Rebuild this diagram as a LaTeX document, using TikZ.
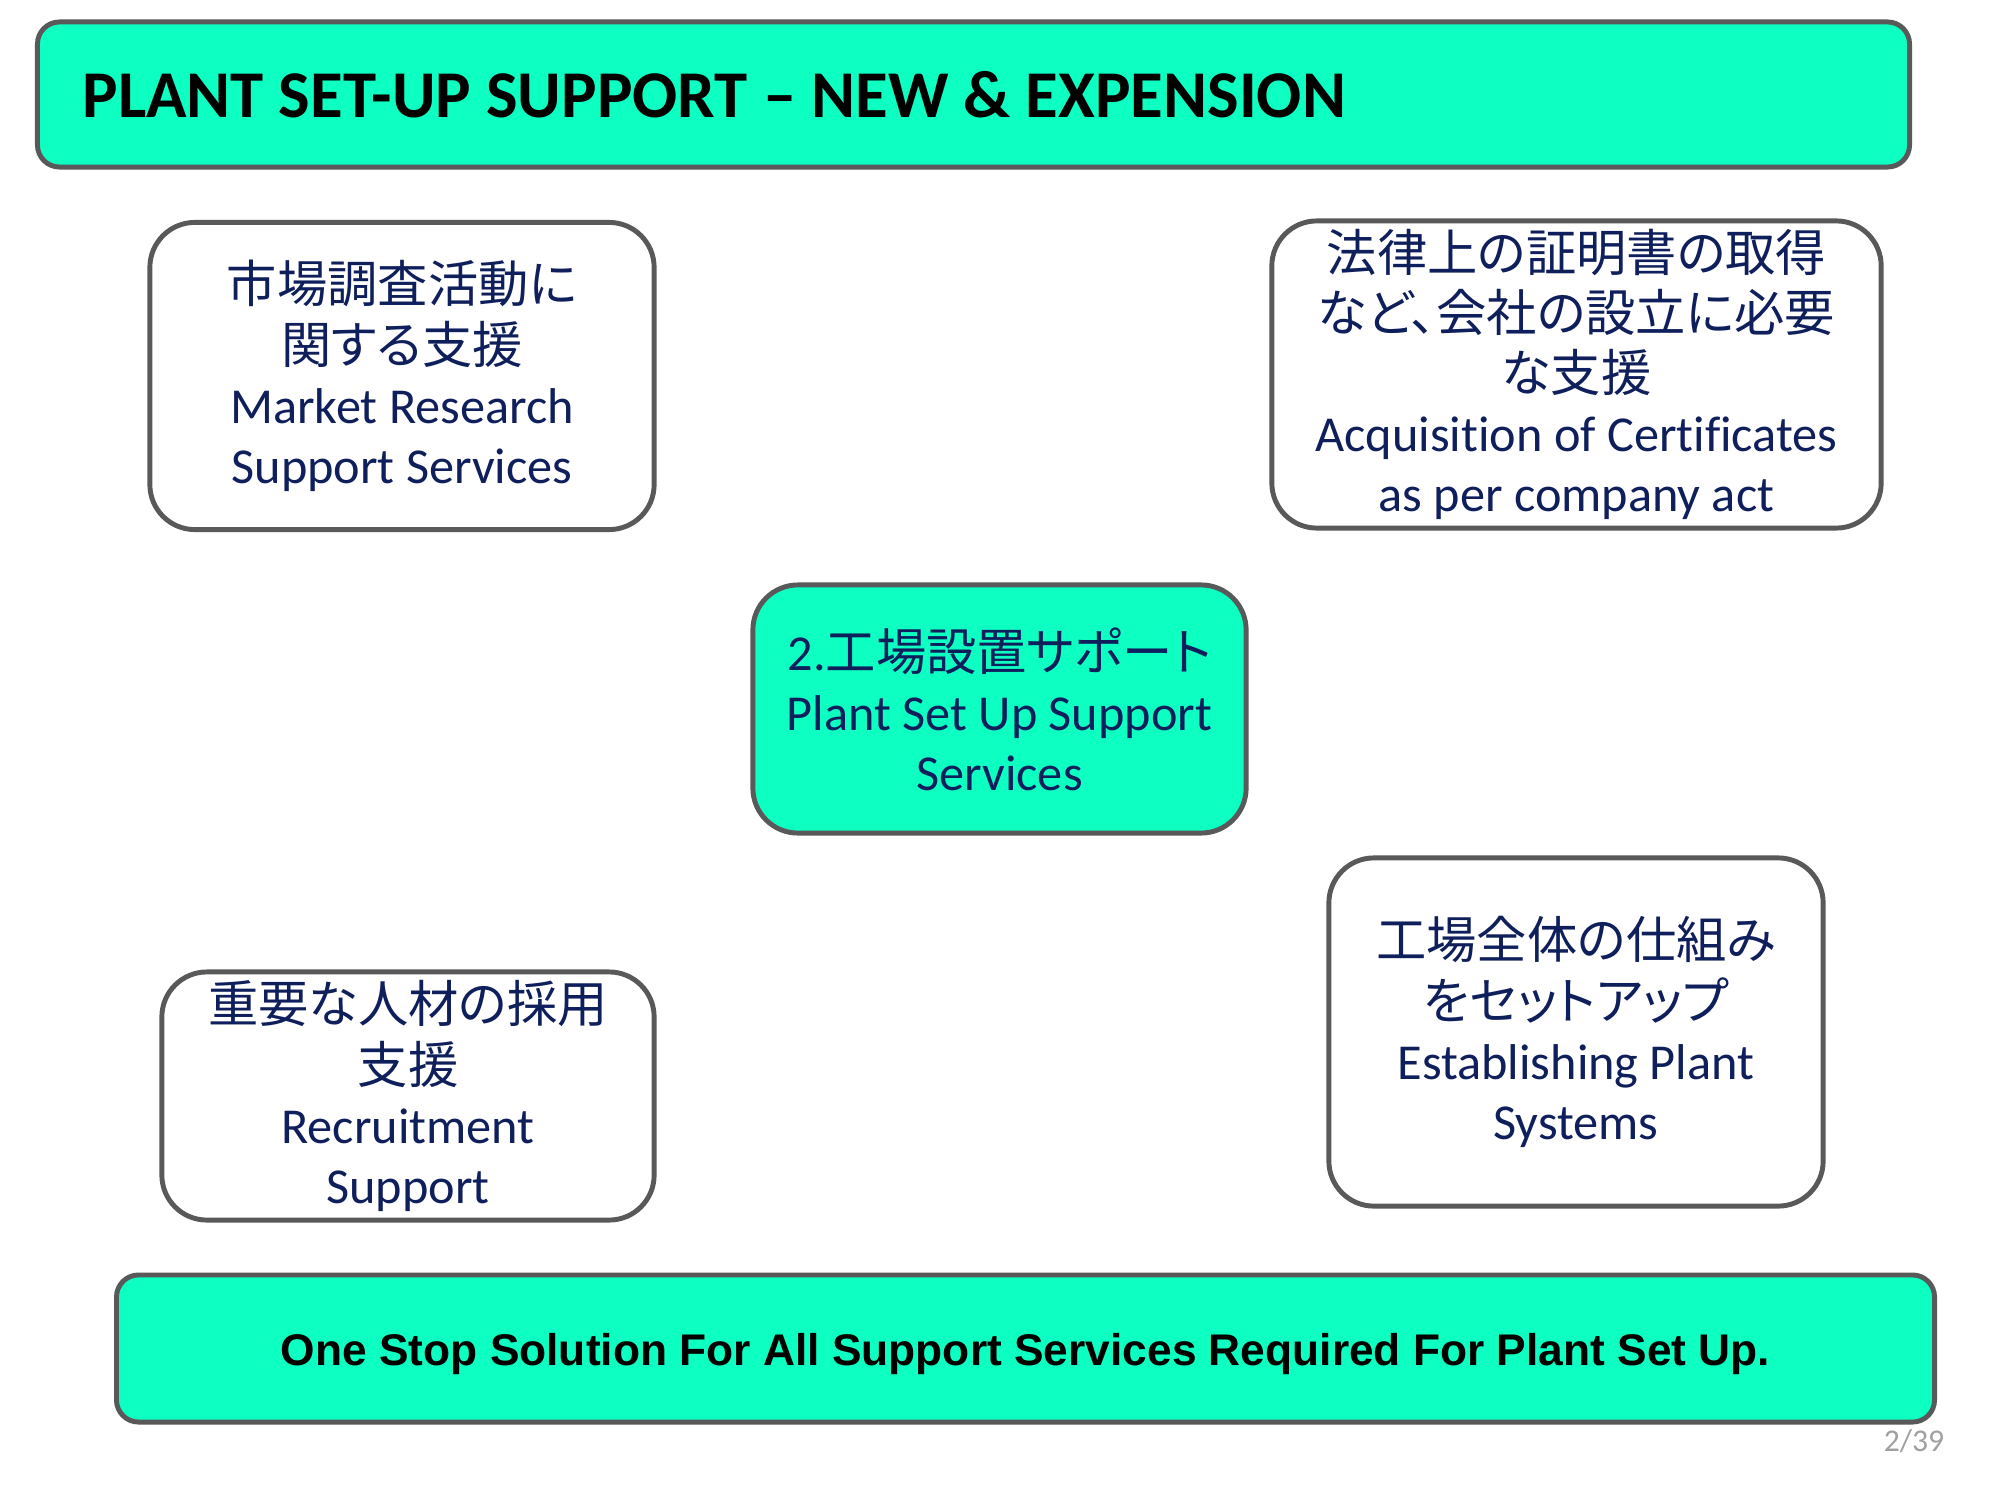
\documentclass[tikz,border=0pt]{standalone}
\usepackage{fontspec}
\setmainfont{Carlito}[Ligatures={NoCommon}]
\newfontfamily\jp{Noto Sans CJK JP}[CharacterWidth=AlternateProportional]
\newfontfamily\arialfont{Liberation Sans}
\definecolor{mint}{HTML}{0DFFC1}
\definecolor{edgegray}{HTML}{595959}
\definecolor{navy}{HTML}{0F1F5C}
\definecolor{pagegray}{HTML}{A0A0A0}
\begin{document}
\begin{tikzpicture}[x=0.01cm,y=-0.01cm]
\useasboundingbox (0,0) rectangle (2000,1500);
\tikzset{
  card/.style={draw=edgegray, line width=1.4pt, rounded corners=0.45cm, fill=white,
    text=navy, align=center, inner sep=0pt, font=\fontsize{14.3}{17.1}\selectfont},
  banner/.style={draw=edgegray, line width=1.4pt, rounded corners=0.22cm, fill=mint,
    text=black, inner sep=0pt}
}
\node[banner, text width=17.81cm, inner xsep=0.45cm, minimum height=1.45cm, align=flush left,
  font=\bfseries\fontsize{19}{23}\selectfont] (title) at (973.5,94.5)
  {PLANT SET-UP SUPPORT – NEW \& EXPENSION};

\node[card, minimum width=5.04cm, minimum height=3.07cm] (market) at (402,376)
  {{\jp 市場調査活動に}\\{\jp 関する支援}\\Market Research\\Support Services};

\node[card, minimum width=6.09cm, minimum height=3.07cm] (legal) at (1576.5,374.5)
  {{\jp 法律上の証明書の取得}\\{\jp など、会社の設立に必要}\\{\jp な支援}\\Acquisition of Certificates\\as per company act};

\node[card, fill=mint, minimum width=4.93cm, minimum height=2.48cm] (plant) at (999.5,709)
  {2.{\jp 工場設置サポート}\\Plant Set Up Support\\Services};

\node[card, minimum width=4.92cm, minimum height=2.48cm] (recruit) at (408,1096)
  {{\jp 重要な人材の採用}\\{\jp 支援}\\Recruitment\\Support};

\node[card, minimum width=4.94cm, minimum height=3.48cm] (systems) at (1576,1032)
  {{\jp 工場全体の仕組み}\\{\jp をセットアップ}\\Establishing Plant\\Systems};

\node[banner, minimum width=18.17cm, minimum height=1.47cm, text height=12.4pt, text depth=2.7pt,
  font=\arialfont\bfseries\fontsize{12.6}{15}\selectfont] (bottom) at (1025.5,1348.5)
  {One Stop Solution For All Support Services Required For Plant Set Up.};

\node[text=pagegray, inner sep=0pt, font=\fontsize{9}{10}\selectfont] (page) at (1914,1441) {2/39};
\end{tikzpicture}
\end{document}
